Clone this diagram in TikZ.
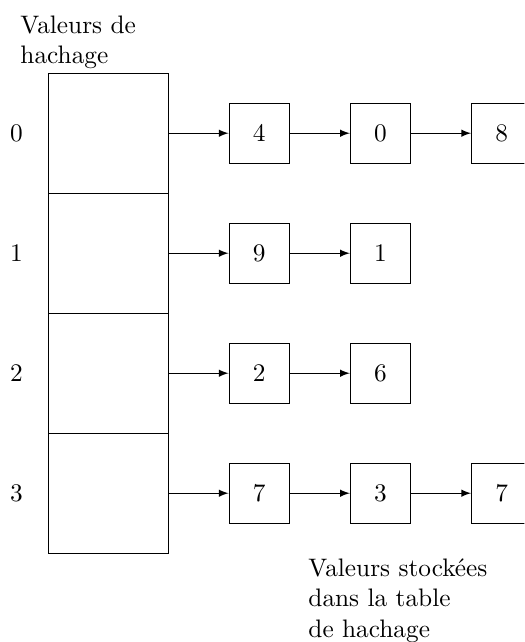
\documentclass[12pt,tikz,border=0pt]{standalone}
\usepackage{fontspec}
\setmainfont{lmroman10-regular.otf}
\usepackage{tikz}
\usetikzlibrary{arrows, positioning}

\begin{document}
\begin{tikzpicture}[
  semithick,
  node distance=1cm,
  cell/.style={rectangle, draw, minimum width=2cm, minimum height=2cm, outer sep=0pt},
  elem/.style={rectangle, draw, minimum size=1cm},
  line/.style={draw, ->, >=latex}
]
  \clip (-0.81,1.22) rectangle (7.93,-9.48);

  \node [cell] (h0) at (1,-1) {};
  \node [cell] (h1) [below=0pt of h0] {};
  \node [cell] (h2) [below=0pt of h1] {};
  \node [cell] (h3) [below=0pt of h2] {};

  \node (i0) [left=0.28cm of h0] {0};
  \node (i1) [left=0.28cm of h1] {1};
  \node (i2) [left=0.28cm of h2] {2};
  \node (i3) [left=0.28cm of h3] {3};

  \node [elem] (a0) [right=of h0] {4};
  \node [elem] (a1) [right=of a0] {0};
  \node [elem] (a2) [right=of a1] {8};
  \node [elem] (b0) [right=of h1] {9};
  \node [elem] (b1) [right=of b0] {1};
  \node [elem] (c0) [right=of h2] {2};
  \node [elem] (c1) [right=of c0] {6};
  \node [elem] (d0) [right=of h3] {7};
  \node [elem] (d1) [right=of d0] {3};
  \node [elem] (d2) [right=of d1] {7};

  \node [align=left, anchor=north west, inner sep=0pt] (hashes) at (-0.48,0.97) {Valeurs de\\hachage};
  \node [align=left, anchor=north west, inner sep=0pt] (stored) at (4.32,-8.08) {Valeurs stockées\\dans la table\\de hachage};

  \draw [line] (h0) -- (a0);
  \draw [line] (a0) -- (a1);
  \draw [line] (a1) -- (a2);
  \draw [line] (h1) -- (b0);
  \draw [line] (b0) -- (b1);
  \draw [line] (h2) -- (c0);
  \draw [line] (c0) -- (c1);
  \draw [line] (h3) -- (d0);
  \draw [line] (d0) -- (d1);
  \draw [line] (d1) -- (d2);
\end{tikzpicture}
\end{document}
